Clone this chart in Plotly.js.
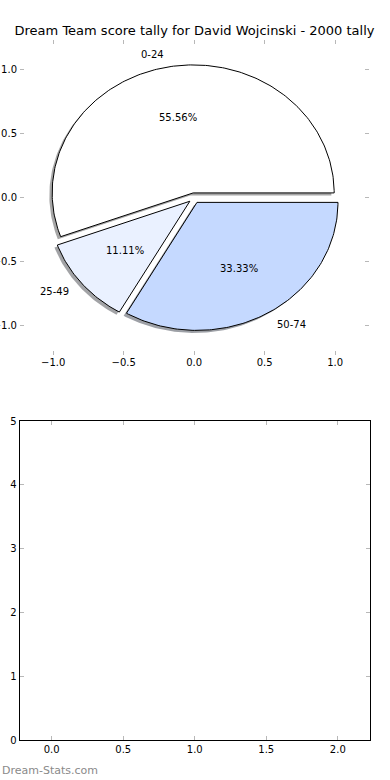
<!DOCTYPE html>
<html>
<head>
<meta charset="utf-8">
<script src="https://cdn.plot.ly/plotly-3.0.1.min.js"></script>
<style>html,body{margin:0;padding:0;background:#fff;}#chart{width:390px;height:780px;}</style>
</head>
<body>
<div id="chart"></div>
<script>
// ---- data ----
const categories = ['0-24', '25-49', '50-74'];
const counts = [5, 1, 3];
const sliceColors = ['#ffffff', '#eaf1ff', '#c5d9ff'];
const pieTicks = [-1.0, -0.5, 0.0, 0.5, 1.0];
const lowerXTicks = [0.0, 0.5, 1.0, 1.5, 2.0];
const lowerYTicks = [0, 1, 2, 3, 4, 5];
const titleText = 'Dream Team score tally for David Wojcinski - 2000 tally';

// ---- pie geometry (matplotlib-like: start at 0deg, counter-clockwise) ----
const EXPLODE = 0.04, SHADOW_OFF = -0.02, LABEL_D = 1.1, PCT_D = 0.6;
const total = counts.reduce((a, b) => a + b, 0);
const deg = Math.PI / 180;

function hexToRgb(h) {
  return [parseInt(h.slice(1, 3), 16), parseInt(h.slice(3, 5), 16), parseInt(h.slice(5, 7), 16)];
}

const shadowTraces = [], wedgeTraces = [], annotations = [];
let theta = 0;
counts.forEach((v, i) => {
  const frac = v / total;
  const t1 = theta, t2 = theta + 360 * frac;
  const mid = (t1 + t2) / 2;
  const cx = EXPLODE * Math.cos(mid * deg), cy = EXPLODE * Math.sin(mid * deg);
  const xs = [cx], ys = [cy];
  const n = Math.max(4, Math.ceil((t2 - t1)));
  for (let k = 0; k <= n; k++) {
    const a = (t1 + (t2 - t1) * k / n) * deg;
    xs.push(cx + Math.cos(a));
    ys.push(cy + Math.sin(a));
  }
  xs.push(cx); ys.push(cy);
  const rgb = hexToRgb(sliceColors[i]).map(c => Math.round(c * 0.3));
  shadowTraces.push({
    type: 'scatter', mode: 'lines', xaxis: 'x', yaxis: 'y',
    x: xs.map(x => x + SHADOW_OFF), y: ys.map(y => y + SHADOW_OFF),
    fill: 'toself', fillcolor: 'rgba(' + rgb.join(',') + ',0.5)',
    line: {width: 0, color: 'rgba(0,0,0,0)'}, hoverinfo: 'skip', showlegend: false
  });
  wedgeTraces.push({
    type: 'scatter', mode: 'lines', xaxis: 'x', yaxis: 'y',
    x: xs, y: ys, fill: 'toself', fillcolor: sliceColors[i],
    line: {width: 1, color: '#000'}, hoverinfo: 'skip', showlegend: false
  });
  const lx = cx + LABEL_D * Math.cos(mid * deg), ly = cy + LABEL_D * Math.sin(mid * deg);
  annotations.push({
    xref: 'x', yref: 'y', x: lx, y: ly, text: categories[i], showarrow: false,
    xanchor: lx > 0 ? 'left' : 'right', yanchor: 'middle',
    font: {family: 'DejaVu Sans', size: 10, color: '#000'}
  });
  const px = cx + PCT_D * Math.cos(mid * deg), py = cy + PCT_D * Math.sin(mid * deg);
  annotations.push({
    xref: 'x', yref: 'y', x: px, y: py, text: (frac * 100).toFixed(2) + '%', showarrow: false,
    xanchor: 'center', yanchor: 'middle',
    font: {family: 'DejaVu Sans', size: 10, color: '#000'}
  });
  theta = t2;
});

annotations.push({
  xref: 'paper', yref: 'paper', x: 0, y: 1 - 770 / 780, xanchor: 'left', yanchor: 'middle',
  text: 'Dream-Stats.com', showarrow: false,
  font: {family: 'DejaVu Sans', size: 11, color: '#8a8a8a'}
});

const tickFont = {family: 'DejaVu Sans', size: 10, color: '#000'};
const common = {
  ticks: 'inside', ticklen: 4, tickwidth: 1, tickcolor: '#b8b8b8',
  showgrid: false, zeroline: false, tickfont: tickFont, fixedrange: true
};

const layout = {
  width: 390, height: 780,
  margin: {l: 0, r: 0, t: 0, b: 0},
  paper_bgcolor: '#fff', plot_bgcolor: 'rgba(0,0,0,0)',
  showlegend: false,
  font: {family: 'DejaVu Sans', color: '#000'},
  title: {
    text: titleText, x: 194.5 / 390, xanchor: 'center', xref: 'paper',
    y: 1 - 30 / 780, yref: 'paper', yanchor: 'middle',
    font: {family: 'DejaVu Sans', size: 13, color: '#000'}
  },
  xaxis: Object.assign({}, common, {
    domain: [20 / 390, 369 / 390], range: [-1.235, 1.24], anchor: 'y',
    tickvals: pieTicks, tickformat: '.1f', showline: false, mirror: 'ticks'
  }),
  yaxis: Object.assign({}, common, {
    domain: [1 - 355 / 780, 1 - 40 / 780], range: [-1.227, 1.234], anchor: 'x',
    tickvals: pieTicks, tickformat: '.1f', showline: false, mirror: 'ticks',
    ticklabelstandoff: 2
  }),
  xaxis2: Object.assign({}, common, {
    domain: [19.5 / 390, 370 / 390], range: [-0.225, 2.225], anchor: 'y2',
    tickvals: lowerXTicks, tickformat: '.1f',
    showline: true, linecolor: '#000', linewidth: 1, mirror: 'ticks'
  }),
  yaxis2: Object.assign({}, common, {
    domain: [1 - 740 / 780, 1 - 421 / 780], range: [0, 5], anchor: 'x2',
    tickvals: lowerYTicks, tickformat: 'd',
    showline: true, linecolor: '#000', linewidth: 1, mirror: 'ticks'
  }),
  annotations: annotations
};

const emptyTrace = {type: 'scatter', mode: 'markers', x: [], y: [], xaxis: 'x2', yaxis: 'y2', showlegend: false, hoverinfo: 'skip'};

Plotly.newPlot('chart', shadowTraces.concat(wedgeTraces, [emptyTrace]), layout, {staticPlot: true, displayModeBar: false});
</script>
</body>
</html>
